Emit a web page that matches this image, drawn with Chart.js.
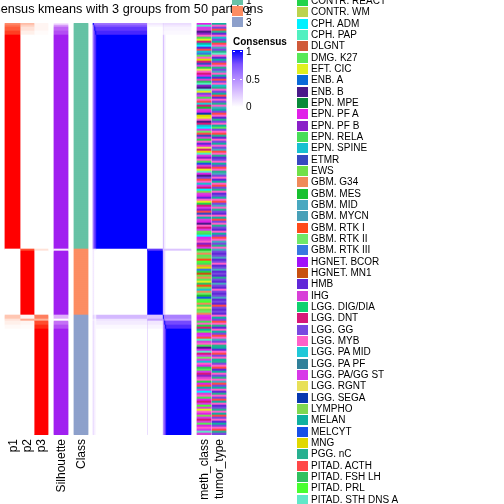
<!DOCTYPE html>
<html>
<head>
<meta charset="utf-8">
<script src="https://cdn.jsdelivr.net/npm/chart.js@4.4.1/dist/chart.umd.min.js"></script>
<style>
  body { margin: 0; width: 504px; height: 504px; overflow: hidden; background: #fff; position: relative;
         font-family: "Liberation Sans", Arial, Helvetica, sans-serif; color: #000; }
  #chart { position: absolute; left: 0; top: 0; }
  .t { position: absolute; white-space: nowrap; line-height: 1; }
  .sw { position: absolute; }
  .rot { position: absolute; top: 439px; transform-origin: 0 0; transform: rotate(-90deg) translate(-100%, -50%);
         font-size: 12px; line-height: 14px; white-space: nowrap; }
</style>
</head>
<body>
<canvas id="chart" width="504" height="504"></canvas>
<div id="overlay"></div>
<script>
// sample segments (top to bottom), sizes in samples
const segSize  = [1, 1, 2, 2, 107,   1, 32,   2, 1, 2, 2, 53];
const segClass = [1, 1, 1, 1, 1,     2, 2,    3, 3, 3, 3, 3];
const segP1    = [0.6, 0.7, 0.8, 0.9, 1,  0, 0,     0.3, 0.15, 0.08, 0.03, 0];
const segP2    = [0.35, 0.25, 0.15, 0.08, 0,  0.85, 1,  0.05, 0.45, 0.05, 0.02, 0];
const segP3    = [0.05, 0.05, 0.05, 0.02, 0,  0.15, 0,  0.65, 0.4, 0.85, 0.95, 1];
const segSil   = [0.15, 0.5, 0.75, 0.85, 1,   0.1, 1,   0.4, 0, 0.7, 0.85, 1];

// consensus between segments (symmetric)
const segCons = [
  [1,    0.65, 0.6,  0.6,  0.6,  0.1,  0.1,  0.2,  0.1,  0.15, 0.15, 0.15],
  [0.65, 1,    0.75, 0.75, 0.72, 0.05, 0.05, 0.15, 0.08, 0.1,  0.1,  0.1 ],
  [0.6,  0.75, 1,    0.85, 0.85, 0.03, 0,    0.12, 0.05, 0.06, 0.05, 0.05],
  [0.6,  0.75, 0.85, 1,    0.92, 0.02, 0,    0.1,  0.03, 0.04, 0.03, 0.03],
  [0.6,  0.72, 0.85, 0.92, 1,    0,    0,    0.3,  0.12, 0.08, 0.03, 0   ],
  [0.1,  0.05, 0.03, 0.02, 0,    1,    0.85, 0.2,  0.35, 0.25, 0.25, 0.25],
  [0.1,  0.05, 0,    0,    0,    0.85, 1,    0.25, 0.4,  0.1,  0.05, 0   ],
  [0.2,  0.15, 0.12, 0.1,  0.3,  0.2,  0.25, 1,    0.45, 0.6,  0.55, 0.55],
  [0.1,  0.08, 0.05, 0.03, 0.12, 0.35, 0.4,  0.45, 1,    0.5,  0.45, 0.45],
  [0.15, 0.1,  0.06, 0.04, 0.08, 0.25, 0.1,  0.6,  0.5,  1,    0.8,  0.78],
  [0.15, 0.1,  0.05, 0.03, 0.03, 0.25, 0.05, 0.55, 0.45, 0.8,  1,    0.9 ],
  [0.15, 0.1,  0.05, 0.03, 0,    0.25, 0,    0.55, 0.45, 0.78, 0.9,  1   ]
];

const categories = ['CONTR. REACT', 'CONTR. WM', 'CPH. ADM', 'CPH. PAP', 'DLGNT', 'DMG. K27', 'EFT. CIC',
  'ENB. A', 'ENB. B', 'EPN. MPE', 'EPN. PF A', 'EPN. PF B', 'EPN. RELA', 'EPN. SPINE', 'ETMR', 'EWS',
  'GBM. G34', 'GBM. MES', 'GBM. MID', 'GBM. MYCN', 'GBM. RTK I', 'GBM. RTK II', 'GBM. RTK III',
  'HGNET. BCOR', 'HGNET. MN1', 'HMB', 'IHG', 'LGG. DIG/DIA', 'LGG. DNT', 'LGG. GG', 'LGG. MYB',
  'LGG. PA MID', 'LGG. PA PF', 'LGG. PA/GG ST', 'LGG. RGNT', 'LGG. SEGA', 'LYMPHO', 'MELAN', 'MELCYT',
  'MNG', 'PGG. nC', 'PITAD. ACTH', 'PITAD. FSH LH', 'PITAD. PRL', 'PITAD. STH DNS A'];
const categoryColors = ['#22d34a', '#bcd34e', '#00f0ff', '#50f0c0', '#d05a3a', '#58e858', '#e0f020',
  '#0a6ad8', '#4a1a8a', '#0a8a3a', '#e020e8', '#8a20c8', '#48dd58', '#18c0d0', '#3848c0', '#70e048',
  '#f08a5a', '#18c030', '#48a8c0', '#48a0b8', '#ff4a1a', '#70e868', '#3878e0',
  '#a010f8', '#c85010', '#6028d8', '#d840d8', '#10d070', '#d81878', '#7848e0', '#ff60c8',
  '#20c8d8', '#30809a', '#d838e8', '#e8e058', '#0838b0', '#80d850', '#10b0a0', '#1850e8',
  '#e0d800', '#28b090', '#ff4848', '#30c060', '#48ff30', '#60e8c8'];

// per-sample category index (rows top to bottom)
const methClass = [
  10,3,33,26,8,11,30,12,6,28,37,2,25,41,13,22,5,30,39,28,
  14,33,0,34,30,28,10,7,26,42,3,11,8,44,6,29,33,12,30,41,
  31,28,17,26,10,35,39,6,30,8,28,13,2,33,21,41,14,26,0,30,
  25,10,34,28,39,3,33,11,30,12,38,26,28,6,44,10,8,29,41,30,
  13,33,28,2,36,26,10,25,30,6,0,28,33,11,41,14,30,37,26,10,
  8,30,28,33,5,12,2,10,26,30,11,28,33,
  17,21,16,5,36,20,43,12,16,39,22,0,24,15,16,5,6,42,20,36,
  13,16,21,17,38,5,43,16,12,34,15,21,16,
  33,10,26,12,30,0,28,37,5,10,33,41,3,26,30,12,8,10,44,28,
  33,21,26,13,30,10,42,5,33,28,11,26,30,0,10,41,37,33,2,26,
  30,12,10,28,33,43,26,6,30,10,36,33,28,26,5,10,30,33,44,26
];
const tumorType = [
  37,30,29,41,40,25,30,13,29,37,41,30,18,29,40,44,30,25,37,29,
  41,30,40,29,18,30,37,25,41,29,30,13,40,30,29,37,41,25,30,29,
  40,30,18,37,29,41,30,25,40,29,30,37,5,29,30,41,40,25,30,29,
  37,30,29,18,41,30,40,25,29,30,37,29,41,30,40,18,29,30,25,37,
  30,41,29,40,30,25,29,37,30,41,29,18,30,40,29,25,30,37,41,29,
  30,40,29,25,30,37,29,41,30,18,29,40,30,
  18,29,25,29,18,25,29,30,25,29,18,25,29,25,40,29,25,18,29,25,
  30,29,25,29,18,25,29,25,41,29,25,29,25,
  30,37,29,41,30,40,25,30,37,29,41,30,18,29,30,40,37,25,30,41,
  29,30,37,40,29,30,41,25,37,30,29,40,30,18,41,29,37,30,25,40,
  30,29,41,37,30,25,29,40,30,37,41,29,30,25,37,29,30,41,40,29
];

const classColors = { 1: '#66C2A5', 2: '#FC8D62', 3: '#8DA0CB' };

// layout (x in px)
const strips = [
  { name: 'p1', x: [5, 20] }, { name: 'p2', x: [20, 34] }, { name: 'p3', x: [34, 48] },
  { name: 'Silhouette', x: [54, 68] }, { name: 'Class', x: [74, 88] },
  { name: 'meth_class', x: [197, 211] }, { name: 'tumor_type', x: [212, 226] }
];
const hmX = [93, 191];

// colour ramps interpolated in LAB, like circlize::colorRamp2
function hexToRgb(h) { const n = parseInt(h.slice(1), 16); return [n >> 16 & 255, n >> 8 & 255, n & 255]; }
function toLin(c) { c /= 255; return c <= 0.04045 ? c / 12.92 : Math.pow((c + 0.055) / 1.055, 2.4); }
function fromLin(c) {
  c = c <= 0.0031308 ? 12.92 * c : 1.055 * Math.pow(Math.max(c, 0), 1 / 2.4) - 0.055;
  return Math.round(Math.max(0, Math.min(1, c)) * 255);
}
function rgbToLab(rgb) {
  const [r, g, b] = rgb.map(toLin);
  const X = (0.4124 * r + 0.3576 * g + 0.1805 * b) / 0.95047;
  const Y = 0.2126 * r + 0.7152 * g + 0.0722 * b;
  const Z = (0.0193 * r + 0.1192 * g + 0.9505 * b) / 1.08883;
  const f = t => t > 0.008856 ? Math.cbrt(t) : 7.787 * t + 16 / 116;
  return [116 * f(Y) - 16, 500 * (f(X) - f(Y)), 200 * (f(Y) - f(Z))];
}
function labToRgb(lab) {
  const fy = (lab[0] + 16) / 116, fx = fy + lab[1] / 500, fz = fy - lab[2] / 200;
  const fi = t => t * t * t > 0.008856 ? t * t * t : (t - 16 / 116) / 7.787;
  const X = fi(fx) * 0.95047, Y = fi(fy), Z = fi(fz) * 1.08883;
  const r = 3.2406 * X - 1.5372 * Y - 0.4986 * Z;
  const g = -0.9689 * X + 1.8758 * Y + 0.0415 * Z;
  const b = 0.0557 * X - 0.2040 * Y + 1.0570 * Z;
  return 'rgb(' + [r, g, b].map(fromLin).join(',') + ')';
}
function ramp(hex) {
  const a = rgbToLab([255, 255, 255]), b = rgbToLab(hexToRgb(hex));
  return v => labToRgb(a.map((x, i) => x + (b[i] - x) * v));
}
const probCol = ramp('#FF0000');
const silCol = ramp('#A020F0');
const consCol = ramp('#0000FF');

// expand segments to rows
const rowSeg = [];
segSize.forEach((s, k) => { for (let i = 0; i < s; i++) rowSeg.push(k); });
const N = rowSeg.length;
const labels = rowSeg.map((_, i) => 'S' + (i + 1));

function strip(x, colors) {
  return {
    data: rowSeg.map(() => x), backgroundColor: colors, borderWidth: 0,
    barPercentage: 1, categoryPercentage: 1, grouped: false
  };
}

const datasets = [
  strip(strips[0].x, rowSeg.map(k => probCol(segP1[k]))),
  strip(strips[1].x, rowSeg.map(k => probCol(segP2[k]))),
  strip(strips[2].x, rowSeg.map(k => probCol(segP3[k]))),
  strip(strips[3].x, rowSeg.map(k => silCol(segSil[k]))),
  strip(strips[4].x, rowSeg.map(k => classColors[segClass[k]])),
  strip(strips[5].x, methClass.map(c => categoryColors[c])),
  strip(strips[6].x, tumorType.map(c => categoryColors[c]))
];

// consensus heatmap: one dataset per column segment
let start = 0;
segSize.forEach((s, c) => {
  const x0 = hmX[0] + (hmX[1] - hmX[0]) * start / N;
  const x1 = hmX[0] + (hmX[1] - hmX[0]) * (start + s) / N;
  datasets.push(strip([x0, x1], rowSeg.map(k => consCol(segCons[k][c]))));
  start += s;
});

new Chart(document.getElementById('chart'), {
  type: 'bar',
  data: { labels: labels, datasets: datasets },
  options: {
    indexAxis: 'y',
    responsive: false,
    animation: false,
    devicePixelRatio: 1,
    events: [],
    layout: { padding: { top: 23, bottom: 69, left: 0, right: 0 } },
    scales: {
      x: { type: 'linear', min: 0, max: 504, display: false },
      y: { type: 'category', display: false }
    },
    plugins: { legend: { display: false }, tooltip: { enabled: false } }
  }
});

// text and legends
const ov = document.getElementById('overlay');
function add(html) { ov.insertAdjacentHTML('beforeend', html); }

add('<div class="t" style="right:241px;top:3px;font-size:12.7px;">Consensus kmeans with 3 groups from 50 partitions</div>');

strips.forEach(s => {
  add('<div class="rot" style="left:' + ((s.x[0] + s.x[1]) / 2) + 'px;">' + s.name + '</div>');
});

// class legend
[1, 2, 3].forEach((c, i) => {
  const y = -5 + i * 11;
  add('<div class="sw" style="left:232px;top:' + y + 'px;width:11px;height:10px;background:' + classColors[c] + '"></div>');
  add('<div class="t" style="left:246px;top:' + (y + 1) + 'px;font-size:10px;">' + c + '</div>');
});

// consensus colour bar
const stops = [1, 0.75, 0.5, 0.25, 0].map((v, i) => consCol(v) + ' ' + (i * 25) + '%').join(',');
add('<div class="t" style="left:233px;top:37px;font-size:10px;font-weight:bold;">Consensus</div>');
add('<div class="sw" style="left:232px;top:50px;width:11px;height:57px;background:linear-gradient(to bottom,' + stops + ')"></div>');
[[1, 51], [0.5, 79], [0, 106]].forEach(([v, y]) => {
  add('<div class="sw" style="left:233px;top:' + y + 'px;width:2px;height:1px;background:#fff"></div>');
  add('<div class="sw" style="left:240px;top:' + y + 'px;width:2px;height:1px;background:#fff"></div>');
  add('<div class="t" style="left:246px;top:' + (y - 4) + 'px;font-size:10px;">' + v + '</div>');
});

// category legend
categories.forEach((name, i) => {
  const yc = 1 + i * 11.33;
  add('<div class="sw" style="left:297px;top:' + (yc - 5) + 'px;width:11px;height:10px;background:' + categoryColors[i] + '"></div>');
  add('<div class="t" style="left:311px;top:' + (yc - 5) + 'px;font-size:10px;">' + name + '</div>');
});
</script>
</body>
</html>
